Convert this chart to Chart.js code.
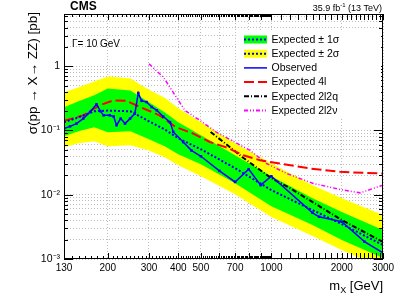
<!DOCTYPE html>
<html>
<head>
<meta charset="utf-8">
<script src="https://cdn.jsdelivr.net/npm/chart.js@4.4.0/dist/chart.umd.min.js"></script>
<style>
html, body { margin: 0; padding: 0; background: #fff; }
</style>
</head>
<body>
<canvas id="limitChart" width="399" height="299"></canvas>
<script>
// expected limit and bands (pb)
const bandMass = [130, 150, 175, 200, 250, 300, 350, 400, 500, 700, 1000, 1500, 2000, 3000];
const expMedian = [0.134, 0.160, 0.199, 0.204, 0.199, 0.139, 0.104, 0.0757, 0.051, 0.0259, 0.0118, 0.00577, 0.00349, 0.00165];
const expUp1 = [0.229, 0.284, 0.352, 0.452, 0.421, 0.274, 0.192, 0.134, 0.0842, 0.0412, 0.0194, 0.00885, 0.00537, 0.00282];
const expDown1 = [0.081, 0.097, 0.112, 0.0938, 0.097, 0.073, 0.0569, 0.0427, 0.0299, 0.0151, 0.00665, 0.00337, 0.00197, 0.00104];
const expUp2 = [0.39, 0.469, 0.58, 0.695, 0.647, 0.429, 0.322, 0.221, 0.1355, 0.0633, 0.031, 0.0141, 0.00885, 0.00482];
const expDown2 = [0.0548, 0.0633, 0.068, 0.0569, 0.0589, 0.049, 0.0384, 0.0288, 0.0194, 0.0102, 0.00449, 0.00228, 0.00138, 0.00072];

// observed
const obsMass = [130, 138, 147, 157, 168, 179, 186, 192, 204, 212, 218, 227, 237, 249, 261, 270, 279, 293, 308, 324, 345, 369, 381, 420, 455, 500, 600, 700, 800, 900, 1000, 1500, 1600, 2000, 2500, 3000];
const obsLimit = [0.107, 0.116, 0.128, 0.153, 0.194, 0.255, 0.2, 0.172, 0.172, 0.165, 0.121, 0.153, 0.128, 0.153, 0.183, 0.382, 0.29, 0.277, 0.232, 0.206, 0.165, 0.135, 0.095, 0.066, 0.049, 0.0397, 0.0235, 0.0158, 0.025, 0.0141, 0.0194, 0.00524, 0.00454, 0.0038, 0.00186, 0.00125];

// per-channel expected
const fourLMass = [130, 157, 185, 211, 240, 275, 333, 390, 464, 546, 646, 759, 895, 1089, 1463, 1965, 3000];
const fourLLimit = [0.141, 0.172, 0.247, 0.294, 0.289, 0.232, 0.172, 0.113, 0.0895, 0.0663, 0.0542, 0.0412, 0.0344, 0.0306, 0.0256, 0.0227, 0.0214];
const qqMass = [550, 650, 750, 1000, 1200, 2000, 3000];
const qqLimit = [0.0948, 0.0589, 0.0387, 0.0181, 0.0127, 0.00403, 0.00184];
const nunuMass = [300, 345, 427, 500, 580, 811, 954, 1163, 1510, 1965, 2400, 3000];
const nunuLimit = [1.09, 0.68, 0.206, 0.14, 0.095, 0.049, 0.0306, 0.0214, 0.015, 0.0121, 0.0107, 0.0141];

// axes
const xMin = 130, xMax = 3000, yMin = 0.001, yMax = 6.5;
const xGridValues = [130, 200, 300, 400, 500, 600, 700, 800, 900, 1000, 2000, 3000];
const xTickLabels = ['130', '200', '300', '400', '500', '', '700', '', '', '1000', '2000', '3000'];
const yMajorValues = [0.001, 0.01, 0.1, 1];
const yTickLabels = ['10\u207B\u00B3', '10\u207B\u00B2', '10\u207B\u00B9', '1'];

const yGridValues = [];
for (let e = -3; e <= 0; e++) {
  for (let k = 1; k <= 9; k++) {
    const v = +(k * Math.pow(10, e)).toPrecision(3);
    if (v <= yMax) yGridValues.push(v);
  }
}
const xMinorTicks = [];
for (let m = 130; m < 1000; m += 10) xMinorTicks.push(m);
for (let m = 1000; m <= 3000; m += 100) xMinorTicks.push(m);

const FONT = '"Liberation Sans", Arial, sans-serif';
const pts = (xs, ys) => xs.map((m, i) => ({ x: m, y: ys[i] }));

const overlay = {
  id: 'overlay',
  afterDraw(chart) {
    const { ctx, chartArea: a, scales: { x, y } } = chart;
    ctx.save();

    // tick marks, pointing inward, all four sides
    ctx.strokeStyle = '#000';
    ctx.lineWidth = 1;
    ctx.beginPath();
    yGridValues.forEach(v => {
      const py = Math.round(y.getPixelForValue(v)) + 0.5;
      const len = yMajorValues.includes(v) ? 9 : 4;
      ctx.moveTo(a.left, py); ctx.lineTo(a.left + len, py);
      ctx.moveTo(a.right, py); ctx.lineTo(a.right - len, py);
    });
    xMinorTicks.forEach(v => {
      const px = Math.round(x.getPixelForValue(v)) + 0.5;
      const len = (v % 100 === 0 || v === 130) ? 6 : 3;
      ctx.moveTo(px, a.bottom); ctx.lineTo(px, a.bottom - len);
      ctx.moveTo(px, a.top); ctx.lineTo(px, a.top + len);
    });
    ctx.stroke();
    ctx.strokeRect(a.left + 0.5, a.top + 0.5, a.right - a.left - 1, a.bottom - a.top - 1);

    // legend
    ctx.fillStyle = '#fff';
    ctx.fillRect(236, 31, 145, 87);
    const entries = [
      { label: 'Expected \u00B1 1\u03C3', band: '#00ff00' },
      { label: 'Expected \u00B1 2\u03C3', band: '#ffff00' },
      { label: 'Observed', color: '#0000ff', dash: [], width: 1.5 },
      { label: 'Expected 4l', color: '#ff0000', dash: [10, 4], width: 2 },
      { label: 'Expected 2l2q', color: '#000000', dash: [5, 2, 1, 2], width: 2 },
      { label: 'Expected 2l2\u03BD', color: '#ff00ff', dash: [4, 2, 1, 2, 1, 2], width: 2 }
    ];
    ctx.font = '10.5px ' + FONT;
    ctx.textBaseline = 'middle';
    entries.forEach((e, i) => {
      const yc = 39.5 + i * 14.2;
      if (e.band) {
        ctx.fillStyle = e.band;
        ctx.fillRect(244, yc - 4, 23, 8);
        ctx.strokeStyle = '#0000ff';
        ctx.lineWidth = 2;
        ctx.setLineDash([2, 2]);
      } else {
        ctx.strokeStyle = e.color;
        ctx.lineWidth = e.width;
        ctx.setLineDash(e.dash);
      }
      ctx.beginPath();
      ctx.moveTo(244, yc); ctx.lineTo(267, yc);
      ctx.stroke();
      ctx.setLineDash([]);
      ctx.fillStyle = '#000';
      ctx.fillText(e.label, 271.5, yc + 0.5);
    });

    // labels
    ctx.textBaseline = 'alphabetic';
    ctx.fillStyle = '#000';
    ctx.font = 'bold 12px ' + FONT;
    ctx.textAlign = 'left';
    ctx.fillText('CMS', 70, 10);

    ctx.font = '9px ' + FONT;
    ctx.textAlign = 'right';
    const tail = ' (13 TeV)';
    const tailW = ctx.measureText(tail).width;
    ctx.fillText(tail, 382, 11);
    ctx.font = '6px ' + FONT;
    const supW = ctx.measureText('-1').width;
    ctx.fillText('-1', 382 - tailW, 7);
    ctx.font = '9px ' + FONT;
    ctx.fillText('35.9 fb', 382 - tailW - supW, 11);

    ctx.textAlign = 'left';
    ctx.font = '10px ' + FONT;
    ctx.fillText('\u0393= 10 GeV', 72, 47);

    // x title
    ctx.textAlign = 'right';
    ctx.font = '13px ' + FONT;
    const xt = ' [GeV]';
    const xtW = ctx.measureText(xt).width;
    ctx.fillText(xt, 383, 290);
    ctx.font = '9px ' + FONT;
    const subW = ctx.measureText('X').width;
    ctx.fillText('X', 383 - xtW, 293);
    ctx.font = '13px ' + FONT;
    ctx.fillText('m', 383 - xtW - subW, 290);

    // y title
    ctx.translate(37, 12);
    ctx.rotate(-Math.PI / 2);
    ctx.textAlign = 'right';
    ctx.font = '13.5px ' + FONT;
    ctx.fillText('\u03C3(pp \u2192 X\u2192 ZZ) [pb]', 0, 0);

    ctx.restore();
  }
};

const lineSet = (label, xs, ys, color, dash, width, order) => ({
  label, data: pts(xs, ys), borderColor: color, borderDash: dash, borderWidth: width,
  pointRadius: 0, fill: false, tension: 0, order
});

new Chart(document.getElementById('limitChart'), {
  type: 'line',
  data: {
    datasets: [
      {
        label: 'Observed', data: pts(obsMass, obsLimit), borderColor: '#0000ff', borderWidth: 1.5,
        pointStyle: 'rect', pointRadius: 1.8, pointBackgroundColor: '#0000ff', pointBorderColor: '#0000ff',
        pointBorderWidth: 0, fill: false, tension: 0, order: 1
      },
      lineSet('Expected', bandMass, expMedian, '#0000ff', [2, 2], 2, 2),
      lineSet('Expected 4l', fourLMass, fourLLimit, '#ff0000', [10, 4], 2, 3),
      lineSet('Expected 2l2q', qqMass, qqLimit, '#000000', [5, 2, 1, 2], 2, 4),
      lineSet('Expected 2l2nu', nunuMass, nunuLimit, '#ff00ff', [4, 2, 1, 2, 1, 2], 1.5, 5),
      { label: '+1s', data: pts(bandMass, expUp1), borderWidth: 0, pointRadius: 0, backgroundColor: '#00ff00', fill: '+1', tension: 0, order: 8 },
      { label: '-1s', data: pts(bandMass, expDown1), borderWidth: 0, pointRadius: 0, fill: false, tension: 0, order: 8 },
      { label: '+2s', data: pts(bandMass, expUp2), borderWidth: 0, pointRadius: 0, backgroundColor: '#ffff00', fill: '+1', tension: 0, order: 9 },
      { label: '-2s', data: pts(bandMass, expDown2), borderWidth: 0, pointRadius: 0, fill: false, tension: 0, order: 9 }
    ]
  },
  options: {
    responsive: false,
    animation: false,
    layout: { padding: { left: 0, right: 16, top: 14, bottom: 0 } },
    plugins: {
      legend: { display: false },
      tooltip: { enabled: false }
    },
    scales: {
      x: {
        type: 'logarithmic',
        min: xMin,
        max: xMax,
        afterFit: s => { s.height = 40; },
        afterBuildTicks: s => { s.ticks = xGridValues.map(v => ({ value: v })); },
        ticks: {
          autoSkip: false,
          maxRotation: 0,
          padding: 3,
          color: '#000',
          font: { family: FONT, size: 10 },
          callback: (v) => {
            const i = xGridValues.indexOf(v);
            return i >= 0 ? xTickLabels[i] : '';
          }
        },
        grid: { color: '#bdbdbd', lineWidth: 1, drawTicks: false },
        border: { display: false, dash: [1, 2] }
      },
      y: {
        type: 'logarithmic',
        min: yMin,
        max: yMax,
        afterFit: s => { s.width = 64; },
        afterBuildTicks: s => { s.ticks = yGridValues.map(v => ({ value: v })); },
        ticks: {
          autoSkip: false,
          padding: 4,
          color: '#000',
          font: { family: FONT, size: 10.5 },
          callback: (v) => {
            const i = yMajorValues.findIndex(t => Math.abs(t - v) / t < 1e-6);
            return i >= 0 ? yTickLabels[i] : '';
          }
        },
        grid: { color: '#bdbdbd', lineWidth: 1, drawTicks: false },
        border: { display: false, dash: [1, 2] }
      }
    }
  },
  plugins: [overlay]
});
</script>
</body>
</html>
